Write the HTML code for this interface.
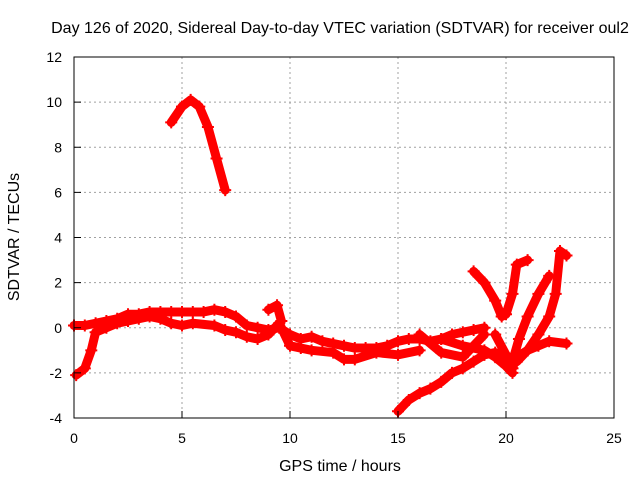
<!DOCTYPE html>
<html><head><meta charset="utf-8"><style>
body{margin:0;background:#fff}
svg{display:block;font-family:"Liberation Sans",sans-serif}
</style></head><body>
<svg id="chart" width="640" height="480" xmlns="http://www.w3.org/2000/svg">
<text x="340" y="33" font-size="16" text-anchor="middle">Day 126 of 2020, Sidereal Day-to-day VTEC variation (SDTVAR) for receiver oul2</text>
<text x="340" y="471" font-size="16" text-anchor="middle">GPS time / hours</text>
<text transform="translate(19,237) rotate(-90)" font-size="16" text-anchor="middle">SDTVAR / TECUs</text>
<g id="grid"></g>
<g id="marks"></g>
<rect x="74" y="57" width="540" height="361" fill="none" stroke="#000" stroke-width="1"/>
<g id="axes"></g>
</svg>
<script>
const xTicks=[0,5,10,15,20,25];
const yTicks=[-4,-2,0,2,4,6,8,10,12];
const s1=[[4.5,9.1],[5,9.8],[5.4,10.1],[5.8,9.8],[6.2,8.9],[6.6,7.5],[7.0,6.1]];
const s2=[[0,0.1],[0.5,0.1],[1,0.2],[1.5,0.3],[2,0.4],[2.5,0.6],[3,0.6],[3.5,0.7],[4,0.7],[4.5,0.7],[5,0.7],[5.5,0.7],[6,0.7],[6.5,0.8],[7,0.7],[7.5,0.5],[8,0.1],[8.5,0],[9,-0.1],[9.5,0],[10,-0.3],[10.5,-0.5],[11,-0.4],[11.5,-0.6],[12,-0.7],[12.5,-0.8],[13,-0.9],[13.5,-0.9],[14,-0.9],[14.5,-0.8],[15,-0.6],[15.5,-0.5],[16,-0.5],[16.5,-0.6],[17,-0.5],[17.5,-0.3],[18,-0.2],[18.5,-0.1],[19,0]];
const s3=[[0.1,-2.1],[0.5,-1.8],[0.8,-1.0],[1,-0.2],[1.5,0],[2,0.2],[2.5,0.3],[3,0.4],[3.5,0.5],[4,0.4],[4.5,0.2],[5,0.1],[5.5,0.2],[6.5,0.1],[7,-0.1],[7.5,-0.2],[8,-0.4],[8.5,-0.5],[9,-0.3],[9.5,0.2],[10,-0.8],[10.5,-0.9],[11,-1.0],[12,-1.1],[12.5,-1.4],[13,-1.4],[14,-1.1],[15,-1.2],[16,-1.0]];
const s4=[[9,0.8],[9.4,1.0],[9.6,0.3]];
const s5=[[15,-3.7],[15.5,-3.2],[16,-2.9],[16.5,-2.7],[17,-2.4],[17.5,-2.0],[18,-1.8],[18.5,-1.5],[19,-1.2],[19.5,-1.1],[20,-1.3],[20.3,-1.8]];
const s6=[[18.5,2.5],[19,2.0],[19.5,1.2],[19.8,0.5],[20,0.6],[20.3,1.5],[20.5,2.8],[21,3.0]];
const s7=[[19.5,-0.3],[20,-1.2],[20.3,-1.5],[20.6,-0.5],[21,0.5],[21.5,1.5],[22,2.3]];
const s8=[[20,-1.5],[20.5,-1.5],[21,-1.0],[21.5,-0.3],[22,0.5],[22.3,1.5],[22.5,3.4],[22.8,3.2]];
const s9=[[20.5,-1.3],[21,-1.0],[21.5,-0.8],[22,-0.6],[22.8,-0.7]];
const s10=[[17,-0.5],[18,-0.8],[19,-1.0],[19.5,-1.3],[20,-1.7],[20.3,-2.0]];
const s11=[[16,-0.3],[17,-1.1],[18,-1.3],[19,-0.3]];
const series=[s1,s2,s3,s4,s5,s6,s7,s8,s9,s10,s11];
const X=v=>74+v*540/25, Y=v=>418-(v+4)*361/16;
const NS="http://www.w3.org/2000/svg";
const grid=document.getElementById('grid'),axes=document.getElementById('axes'),marks=document.getElementById('marks');
function mk(tag,attrs,parent){const e=document.createElementNS(NS,tag);for(const k in attrs)e.setAttribute(k,attrs[k]);parent.appendChild(e);return e;}
xTicks.forEach(t=>{
 if(t>0&&t<25){const g=mk('line',{x1:X(t),x2:X(t),y1:57,y2:418,stroke:'#a0a0a0','stroke-dasharray':'2,3'},grid);}
 const tk=mk('line',{x1:X(t),x2:X(t),y1:418,y2:411,stroke:'#000'},axes);
 const l=mk('text',{x:X(t),y:443,'font-size':14,'text-anchor':'middle'},axes);l.textContent=t;
 
});
yTicks.forEach(t=>{
 if(t>-4&&t<12){const g=mk('line',{x1:74,x2:614,y1:Y(t),y2:Y(t),stroke:'#a0a0a0','stroke-dasharray':'2,3'},grid);}
 const tk=mk('line',{x1:74,x2:81,y1:Y(t),y2:Y(t),stroke:'#000'},axes);
 const l=mk('text',{x:62,y:Y(t)+5,'font-size':14,'text-anchor':'end'},axes);l.textContent=t;
 
});
series.forEach((s,i)=>{
 const p=mk('polyline',{points:s.map(d=>X(d[0])+','+Y(d[1])).join(' '),fill:'none',stroke:'#ff0000','stroke-width':9,'stroke-linejoin':'round','stroke-linecap':'round'},marks);
 
 
 s.forEach(d=>{const m=mk('path',{d:`M${X(d[0])-6},${Y(d[1])}h12M${X(d[0])},${Y(d[1])-6}v12`,stroke:'#ff0000','stroke-width':2},marks);
  
  });
});
</script>
</body></html>
